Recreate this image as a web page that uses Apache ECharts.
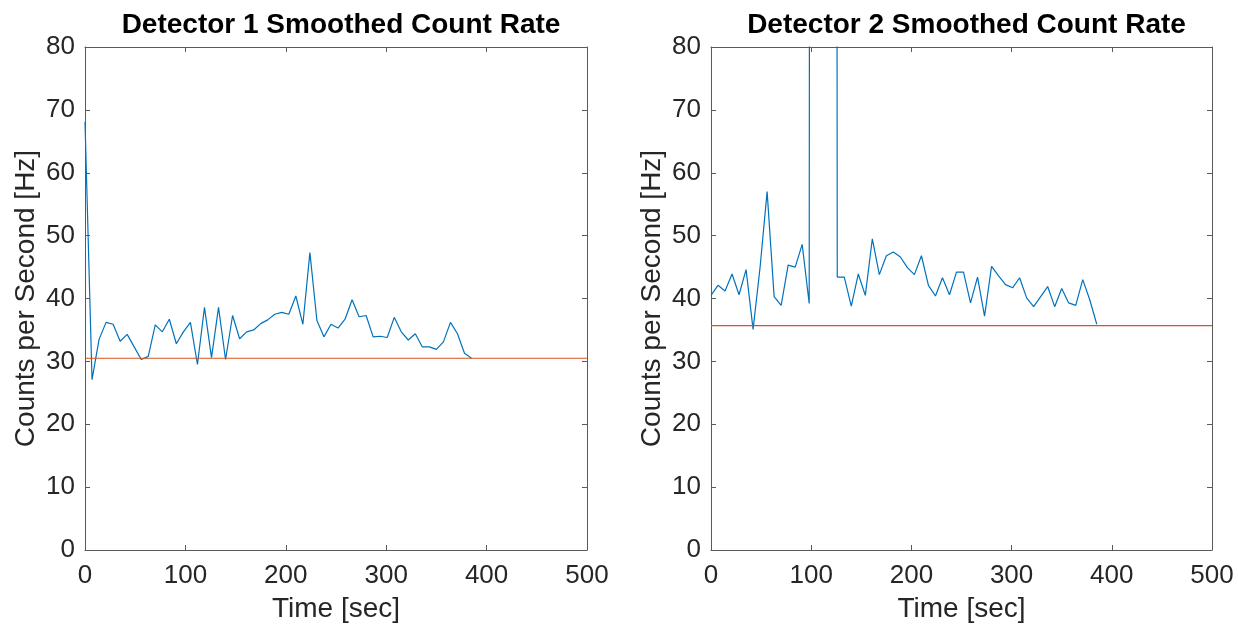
<!DOCTYPE html>
<html>
<head>
<meta charset="utf-8">
<script src="https://cdn.jsdelivr.net/npm/echarts@6/dist/echarts.min.js"></script>
<style>
html,body{margin:0;padding:0;background:#fff;}
#chart{width:1238px;height:628px;}
</style>
</head>
<body>
<div id="chart"></div>
<script>
// Time samples (sec)
const timeSec = [0,7,14,21,28,35,42,49,56,63,70,77,84,91,98,105,112,119,126,133,140,147,154,161,168,175,182,189,196,203,210,217,224,231,238,245,252,259,266,273,280,287,294,301,308,315,322,329,336,343,350,357,364,371,378,385];
// Detector 1 smoothed counts per second
const det1Rate = [68.1,27.1,33.5,36.2,35.9,33.2,34.3,32.3,30.3,30.8,35.8,34.7,36.7,32.8,34.7,36.2,29.5,38.6,30.6,38.6,30.3,37.3,33.6,34.7,35.0,36.0,36.6,37.5,37.8,37.5,40.4,35.9,47.3,36.5,33.9,35.9,35.3,36.7,39.8,37.1,37.3,33.9,34.0,33.8,37.0,34.7,33.4,34.4,32.3,32.3,31.9,33.1,36.2,34.4,31.3,30.5];
// Detector 2 smoothed counts per second (three samples far off scale)
const det2Rate = [40.5,42.1,41.2,43.9,40.6,44.6,35.1,45.0,57.0,40.3,38.9,45.3,45.0,48.6,39.2,1500,1500,1500,43.4,43.4,38.8,43.9,40.5,49.5,43.8,46.8,47.4,46.6,44.9,43.8,46.8,42.1,40.4,43.3,40.6,44.2,44.2,39.3,43.4,37.2,45.1,43.6,42.2,41.7,43.3,40.1,38.7,40.3,41.9,38.7,41.6,39.3,38.9,43.0,39.8,35.9];
// Background levels
const det1Background = 30.5;
const det2Background = 35.7;
// Axis settings
const xTicks = [0,100,200,300,400,500];
const yTicks = [0,10,20,30,40,50,60,70,80];
const titles = ['Detector 1 Smoothed Count Rate','Detector 2 Smoothed Count Rate'];
const xName = 'Time [sec]';
const yName = 'Counts per Second [Hz]';

const FONT = '"Liberation Sans", Arial, sans-serif';
const AX = '#262626';
const AXL = '#5a5a5a';
const BLUE = '#0072BD';
const ORANGE = '#D95319';

const grids = [
  {left: 85, top: 47, width: 502, height: 504},
  {left: 711, top: 47, width: 501, height: 504}
];

function xAxes(gi) {
  const base = {
    type: 'value', gridIndex: gi, min: xTicks[0], max: xTicks[xTicks.length-1], interval: 100,
    axisLine: {show: true, onZero: false, lineStyle: {color: AXL, width: 1}},
    axisTick: {show: true, inside: true, length: 5, lineStyle: {color: AXL}},
    splitLine: {show: false}
  };
  return [
    Object.assign({}, base, {
      position: 'bottom',
      axisLabel: {show: true, color: AX, fontSize: 26, fontFamily: FONT, margin: 13},
      name: xName, nameLocation: 'middle', nameGap: 45,
      nameTextStyle: {color: AX, fontSize: 28, fontFamily: FONT}
    }),
    Object.assign({}, base, {position: 'top', axisLabel: {show: false}})
  ];
}
function yAxes(gi) {
  const base = {
    type: 'value', gridIndex: gi, min: yTicks[0], max: yTicks[yTicks.length-1], interval: 10,
    axisLine: {show: true, onZero: false, lineStyle: {color: AXL, width: 1}},
    axisTick: {show: true, inside: true, length: 5, lineStyle: {color: AXL}},
    splitLine: {show: false}
  };
  return [
    Object.assign({}, base, {
      position: 'left',
      axisLabel: {show: true, color: AX, fontSize: 26, fontFamily: FONT, margin: 10},
      name: yName, nameLocation: 'middle', nameGap: 45, nameRotate: 90,
      nameTextStyle: {color: AX, fontSize: 28, fontFamily: FONT}
    }),
    Object.assign({}, base, {position: 'right', axisLabel: {show: false}})
  ];
}

const rates = [det1Rate, det2Rate];
const backgrounds = [det1Background, det2Background];
const series = [];
[0,1].forEach(gi => {
  series.push({
    type: 'line', xAxisIndex: gi*2, yAxisIndex: gi*2,
    data: timeSec.map((t,i) => [t, rates[gi][i]]),
    showSymbol: false, symbol: 'none', clip: true,
    lineStyle: {color: BLUE, width: 1.2}, animation: false
  });
  series.push({
    type: 'line', xAxisIndex: gi*2, yAxisIndex: gi*2,
    data: [[xTicks[0], backgrounds[gi]], [xTicks[xTicks.length-1], backgrounds[gi]]],
    showSymbol: false, symbol: 'none', clip: true,
    lineStyle: {color: ORANGE, width: 1.2}, animation: false
  });
});

const chart = echarts.init(document.getElementById('chart'), null, {renderer: 'canvas'});
chart.setOption({
  backgroundColor: '#ffffff',
  animation: false,
  title: titles.map((t,i) => ({
    text: t, left: grids[i].left + grids[i].width/2, top: 6, textAlign: 'center',
    textStyle: {color: '#000', fontSize: 28, fontWeight: 'bold', fontFamily: FONT}
  })),
  grid: grids,
  xAxis: [...xAxes(0), ...xAxes(1)],
  yAxis: [...yAxes(0), ...yAxes(1)],
  series: series
});
</script>
</body>
</html>
